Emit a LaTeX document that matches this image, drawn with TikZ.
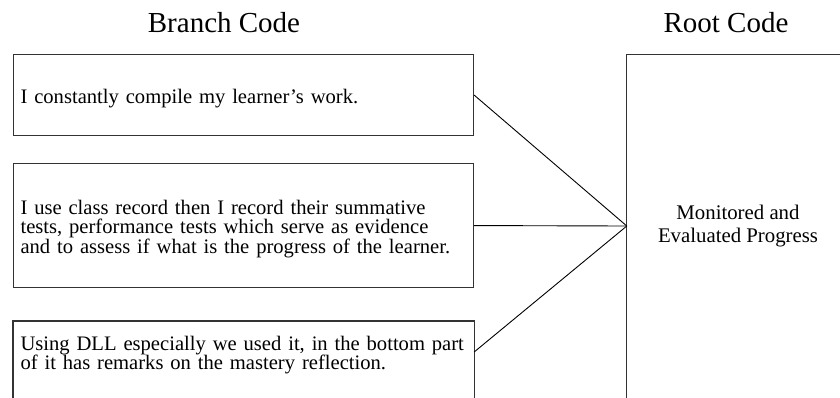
\documentclass[tikz,border=0pt]{standalone}
\usepackage{fontspec}
\setmainfont{Liberation Serif}
\newcommand{\topstrut}{\rule{0pt}{21pt}}
\begin{document}
\begin{tikzpicture}[x=1pt,y=-1pt,
  boxline/.style={draw=black!80,line width=1.1pt},
  branch/.style={boxline, rectangle, minimum width=460pt, text width=446pt, inner xsep=7pt, inner ysep=0pt, align=left, anchor=north west, font=\fontsize{20.6}{19.3}\selectfont},
  conn/.style={draw=black, line width=0.9pt},
  heading/.style={font=\fontsize{29}{34}\selectfont, anchor=base, inner sep=0pt}]
\useasboundingbox (0,0) rectangle (840,397);
\clip (0,0) rectangle (840,397);
\node[heading] (hb) at (224,32) {Branch Code};
\node[heading] (hr) at (726,32) {Root Code};
\node[branch, minimum height=81pt] (b1) at (13,54) {\topstrut I constantly compile my learner’s work.};
\node[branch, minimum height=124pt] (b2) at (13,163) {\topstrut I use class record then I record their summative\\tests, performance tests which serve as evidence\\and to assess if what is the progress of the learner.};
\node[branch, draw=none, minimum height=61pt] (b3) at (13,321) {\topstrut Using DLL especially we used it, in the bottom part\\of it has remarks on the mastery reflection.};
\draw[boxline] ([yshift=-40pt]b3.south west) |- (b3.north east) -- ([yshift=-40pt]b3.south east);
\node[draw=none, minimum width=222pt, minimum height=342pt, align=center, font=\fontsize{20.8}{23}\selectfont] (root) at (738,226) {Monitored and\\Evaluated Progress};
\draw[boxline] ([yshift=-30pt]root.south west) |- ([xshift=30pt]root.north east);
\draw[conn] (b1.east) -- (root.west);
\draw[conn] (b2.east) -- (root.west);
\draw[conn] (b3.east) -- (root.west);
\end{tikzpicture}
\end{document}
